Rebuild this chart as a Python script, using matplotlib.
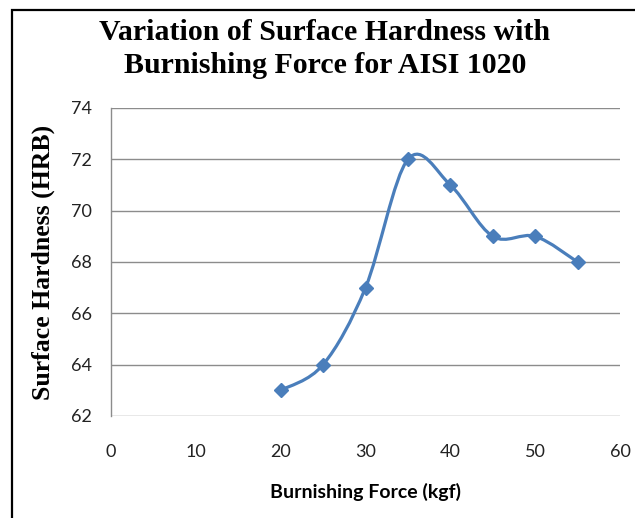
import numpy as np
import matplotlib
matplotlib.use("Agg")
import matplotlib.pyplot as plt
from matplotlib.path import Path
from matplotlib.patches import PathPatch, Rectangle

# data
force = [20, 25, 30, 35, 40, 45, 50, 55]
hardness = [63, 64, 67, 72, 71, 69, 69, 68]

x_ticks = [0, 10, 20, 30, 40, 50, 60]
y_ticks = [62, 64, 66, 68, 70, 72, 74]

line_col = "#4a7ebb"
grid_col = "#8c8c8c"


def smooth_path(xs, ys):
	# excel-like smoothed line: cubic bezier through the points
	pts = np.column_stack([xs, ys]).astype(float)
	n = len(pts)
	verts = [pts[0]]
	codes = [Path.MOVETO]
	for i in range(n - 1):
		p0 = pts[max(i - 1, 0)]
		p1 = pts[i]
		p2 = pts[i + 1]
		p3 = pts[min(i + 2, n - 1)]
		c1 = p1 + (p2 - p0) / 6
		c2 = p2 - (p3 - p1) / 6
		verts += [c1, c2, p2]
		codes += [Path.CURVE4] * 3
	return Path(verts, codes)


fig = plt.figure(figsize=(6.35, 5.18), dpi=100)
ax = fig.add_axes([111 / 635, 1 - 416 / 518, 509 / 635, 308 / 518])

ax.add_patch(PathPatch(smooth_path(force, hardness), fill=False, edgecolor=line_col,
	linewidth=2.3, capstyle="round", joinstyle="round", zorder=3))
ax.plot(force, hardness, linestyle="none", marker="D", markersize=7,
	color=line_col, zorder=4)

ax.set_xlim(0, 60)
ax.set_ylim(62, 74)
ax.set_xticks(x_ticks)
ax.set_yticks(y_ticks)
ax.grid(axis="y", color=grid_col, linewidth=1.0)
ax.set_axisbelow(True)
for s in ["top", "right", "bottom"]:
	ax.spines[s].set_visible(False)
ax.spines["left"].set_color(grid_col)
ax.spines["left"].set_linewidth(1.0)
ax.tick_params(axis="both", length=0, labelsize=13, labelcolor="#222222")
ax.tick_params(axis="x", pad=20)
ax.tick_params(axis="y", pad=14)
for lab in ax.get_xticklabels() + ax.get_yticklabels():
	lab.set_fontfamily("Lato")

ax.set_xlabel("Burnishing Force (kgf)", fontfamily="Lato", fontweight="bold",
	fontsize=14, labelpad=17)
ax.set_ylabel("Surface Hardness (HRB)", fontfamily="Liberation Serif", fontweight="bold",
	fontsize=18.5, labelpad=11)

fig.text(325 / 635, 1 - 49 / 518, "Variation of Surface Hardness with\nBurnishing Force for AISI 1020",
	ha="center", va="center", fontfamily="Liberation Serif", fontweight="bold",
	fontsize=21.5, linespacing=1.25)

# outer chart frame (cut off at right and bottom)
fig.patches.append(Rectangle((12 / 635, -0.2), 1.2, 1.2 - 10 / 518, transform=fig.transFigure,
	fill=False, edgecolor="black", linewidth=1.6, clip_on=False))

fig.savefig("out.png", dpi=100)
